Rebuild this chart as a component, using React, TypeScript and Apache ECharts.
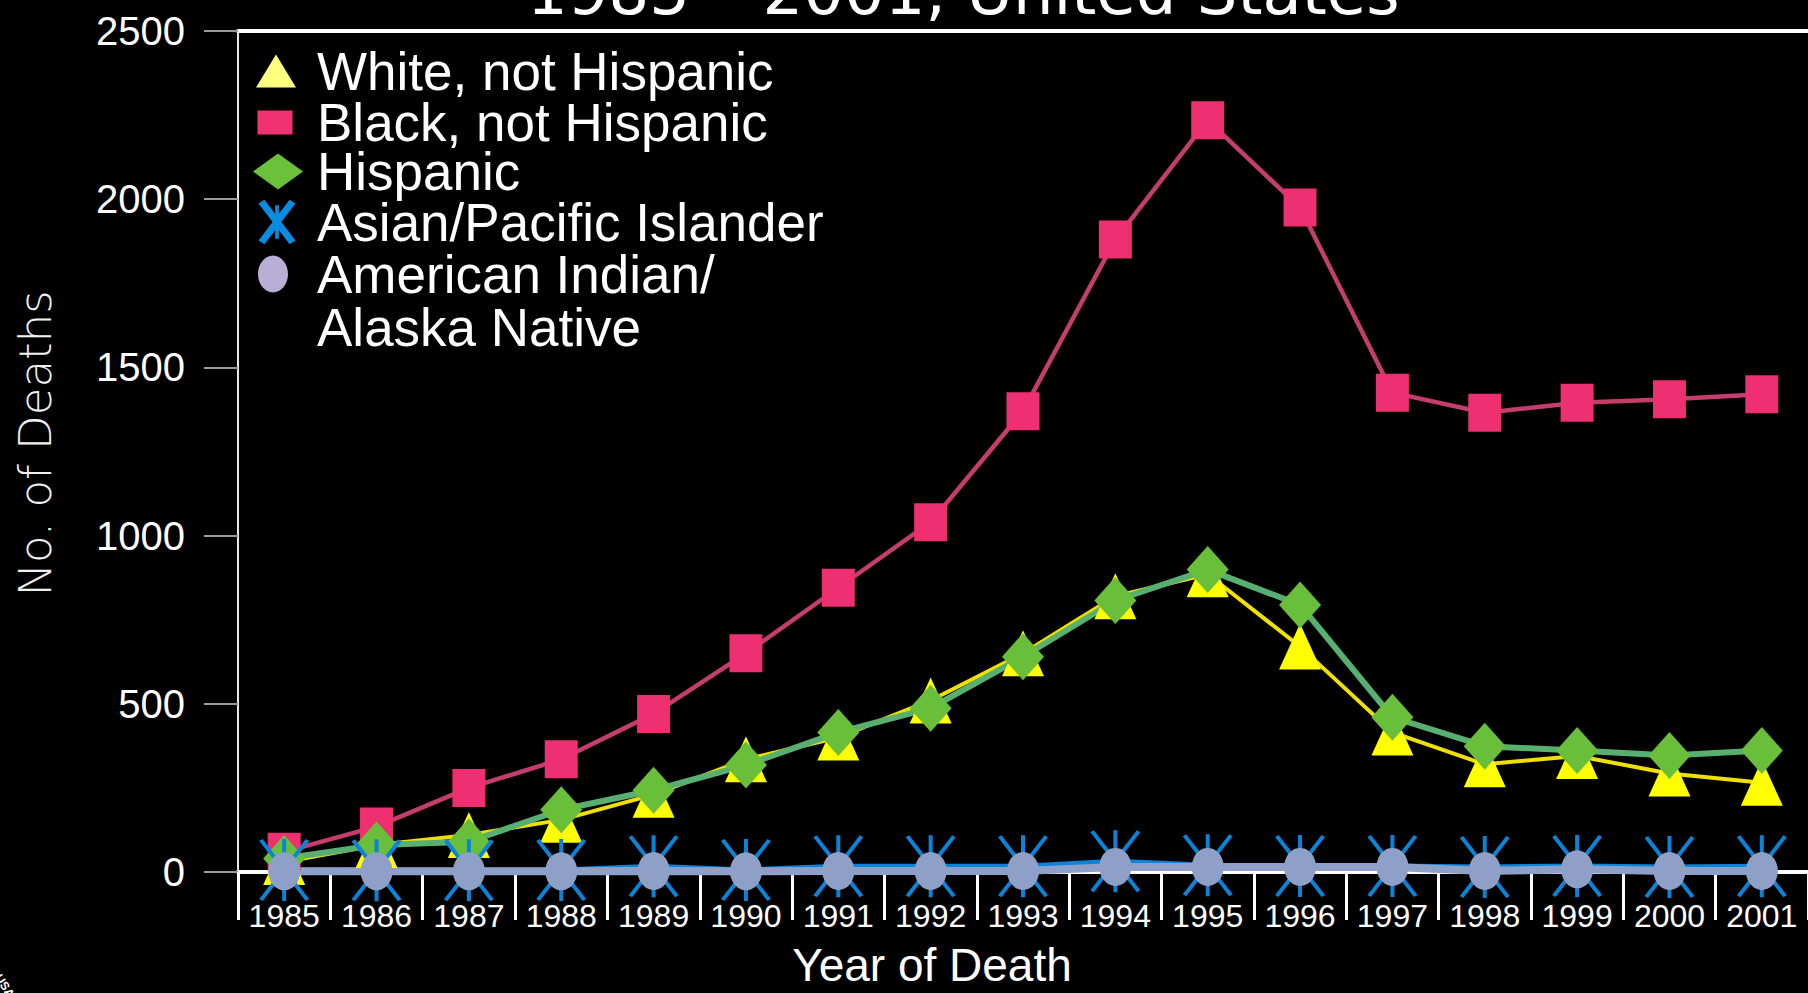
import React, { useEffect, useRef } from 'react';
import * as echarts from 'echarts';

// ---- data ----
const years = ['1985', '1986', '1987', '1988', '1989', '1990', '1991', '1992', '1993', '1994', '1995', '1996', '1997', '1998', '1999', '2000', '2001'];
const whiteNotHispanic = [30, 80, 110, 155, 230, 335, 400, 510, 650, 820, 885, 670, 415, 320, 345, 293, 265];
const blackNotHispanic = [60, 135, 250, 335, 470, 650, 845, 1040, 1370, 1880, 2235, 1975, 1425, 1365, 1395, 1405, 1420];
const hispanic = [40, 80, 90, 185, 243, 318, 415, 487, 640, 807, 899, 794, 460, 374, 361, 346, 361];
const asianPacific = [6, 5, 5, 6, 17, 6, 17, 17, 17, 32, 20, 18, 18, 15, 18, 15, 17];
const amIndianAlaska = [2, 2, 2, 2, 3, 2, 3, 3, 3, 15, 15, 15, 15, 3, 8, 3, 3];
const yTicks = { min: 0, max: 2500, interval: 500 };

const seriesNames = [
  'White, not Hispanic',
  'Black, not Hispanic',
  'Hispanic',
  'Asian/Pacific Islander',
  'American Indian/\nAlaska Native',
];

const titleText = '1985 \u2013 2001, United States';

// ---- symbols ----
const ASTER_MARK = 'path://M46,0L54,0L54,120L46,120Z M0,4L7,0L100,116L93,120Z M7,120L0,116L93,0L100,4Z';
const ASTER_LEGEND = 'path://M45,15L55,15L55,105L45,105Z M0,10L16,0L100,110L84,120Z M16,120L0,110L84,0L100,10Z';
const ELLIPSE_LEGEND =
  'path://M15,0C23.28,0 30,8.28 30,18.5C30,28.72 23.28,37 15,37C6.72,37 0,28.72 0,18.5C0,8.28 6.72,0 15,0Z M15,90.95L15.05,91L14.95,91Z';

const SANS = '"Liberation Sans", Arial, Helvetica, sans-serif';
const GEO = '"DejaVu Sans", Verdana, sans-serif';

function makeLegend(name: string, icon: string, color: string, w: number, h: number, cx: number, top: number, lh: number) {
  const textLeft = 317;
  return {
    show: true,
    orient: 'vertical',
    selectedMode: false,
    left: cx - w / 2,
    top,
    padding: 0,
    itemWidth: w,
    itemHeight: h,
    data: [{ name, icon, itemStyle: { color, borderWidth: 0 } }],
    textStyle: {
      color: '#ffffff',
      fontSize: 53,
      fontFamily: SANS,
      lineHeight: lh,
      padding: [0, 0, 0, textLeft - (cx + w / 2) - 5],
    },
  };
}

export default function App() {
  const ref = useRef<HTMLDivElement>(null);

  useEffect(() => {
    document.body.style.margin = '0';
    document.body.style.background = '#000';
    if (!ref.current) return;
    const chart = echarts.init(ref.current, undefined, { renderer: 'svg' });

    const lineBase = {
      type: 'line',
      showSymbol: true,
      clip: false,
      xAxisIndex: 0,
      yAxisIndex: 0,
      emphasis: { disabled: true },
    };

    const option: any = {
      animation: false,
      backgroundColor: '#000000',
      title: {
        text: titleText,
        left: 527,
        top: -40,
        padding: 0,
        textStyle: { color: '#ffffff', fontSize: 64, fontWeight: 'normal', fontFamily: GEO },
      },
      legend: [
        makeLegend(seriesNames[0], 'triangle', '#ffff80', 40, 33, 276, 71 - 26.5, 53),
        makeLegend(seriesNames[1], 'rect', '#ee3272', 35, 24, 275, 122.5 - 26.5, 53),
        makeLegend(seriesNames[2], 'diamond', '#6cc13a', 50, 36, 278, 171.5 - 26.5, 53),
        makeLegend(seriesNames[3], ASTER_LEGEND, '#0a8ce0', 37, 45, 277, 222 - 26.5, 53),
        makeLegend(seriesNames[4], ELLIPSE_LEGEND, '#b8aed6', 30, 91, 273, 301 - 53, 53),
      ],
      grid: { left: 238, top: 31, width: 1582, height: 846.5, containLabel: false },
      xAxis: [
        {
          type: 'category',
          data: years,
          boundaryGap: true,
          position: 'bottom',
          axisLine: { show: true, lineStyle: { color: '#ffffff', width: 4 } },
          axisTick: { show: true, inside: false, length: 48, interval: 0, lineStyle: { color: '#ffffff', width: 3 } },
          axisLabel: { show: true, interval: 0, margin: 28, color: '#ffffff', fontSize: 32, fontFamily: SANS },
          splitLine: { show: false },
          name: 'Year of Death',
          nameLocation: 'middle',
          nameGap: 70,
          nameTextStyle: { color: '#ffffff', fontSize: 46, fontFamily: SANS, lineHeight: 46, padding: [0, 182, 0, 0] },
        },
        {
          type: 'category',
          data: years,
          position: 'top',
          axisLine: { show: true, lineStyle: { color: '#ffffff', width: 4 } },
          axisTick: { show: false },
          axisLabel: { show: false },
          splitLine: { show: false },
        },
      ],
      yAxis: {
        type: 'value',
        min: yTicks.min,
        max: yTicks.max,
        interval: yTicks.interval,
        axisLine: { show: true, lineStyle: { color: '#e8e8e8', width: 2 } },
        axisTick: { show: true, inside: false, length: 34, lineStyle: { color: '#9a9a9a', width: 2 } },
        axisLabel: {
          color: '#ffffff',
          fontSize: 40,
          fontFamily: SANS,
          margin: 53,
          formatter: (v: number) => String(v),
        },
        splitLine: { show: false },
        name: 'No. of Deaths',
        nameLocation: 'middle',
        nameGap: 180,
        nameTextStyle: {
          color: '#f0f0f0',
          fontSize: 45,
          fontFamily: GEO,
          fontWeight: 200,
          lineHeight: 45,
          padding: [0, 0, 0, 16],
        },
      },
      series: [
        {
          ...lineBase,
          name: seriesNames[0],
          data: whiteNotHispanic,
          symbol: 'triangle',
          symbolSize: [42, 46],
          itemStyle: { color: '#ffff00' },
          lineStyle: { color: '#f0e000', width: 4 },
        },
        {
          ...lineBase,
          name: seriesNames[1],
          data: blackNotHispanic,
          symbol: 'rect',
          symbolSize: [33, 38],
          itemStyle: { color: '#ee2f72' },
          lineStyle: { color: '#c33d6e', width: 4.5 },
        },
        {
          ...lineBase,
          name: seriesNames[2],
          data: hispanic,
          symbol: 'diamond',
          symbolSize: [42, 47],
          itemStyle: { color: '#6abf3a' },
          lineStyle: { color: '#58b070', width: 6 },
        },
        {
          ...lineBase,
          name: seriesNames[3],
          data: asianPacific,
          symbol: ASTER_MARK,
          symbolSize: [50, 62],
          itemStyle: { color: '#0a84d8' },
          lineStyle: { color: '#0a84d8', width: 5 },
        },
        {
          ...lineBase,
          name: seriesNames[4],
          data: amIndianAlaska,
          symbol: 'circle',
          symbolSize: [32, 38],
          itemStyle: { color: '#8fa0c8' },
          lineStyle: { color: '#8fa0c8', width: 8 },
        },
      ],
      graphic: [
        {
          type: 'text',
          x: 3,
          y: 972,
          rotation: -1.0,
          style: { text: 'USA', fill: '#ffffff', fontSize: 12, fontFamily: SANS, fontWeight: 'bold' },
        },
      ],
    };

    chart.setOption(option);
    return () => {
      chart.dispose();
    };
  }, []);

  return <div ref={ref} style={{ width: 1808, height: 993, background: '#000' }} />;
}
